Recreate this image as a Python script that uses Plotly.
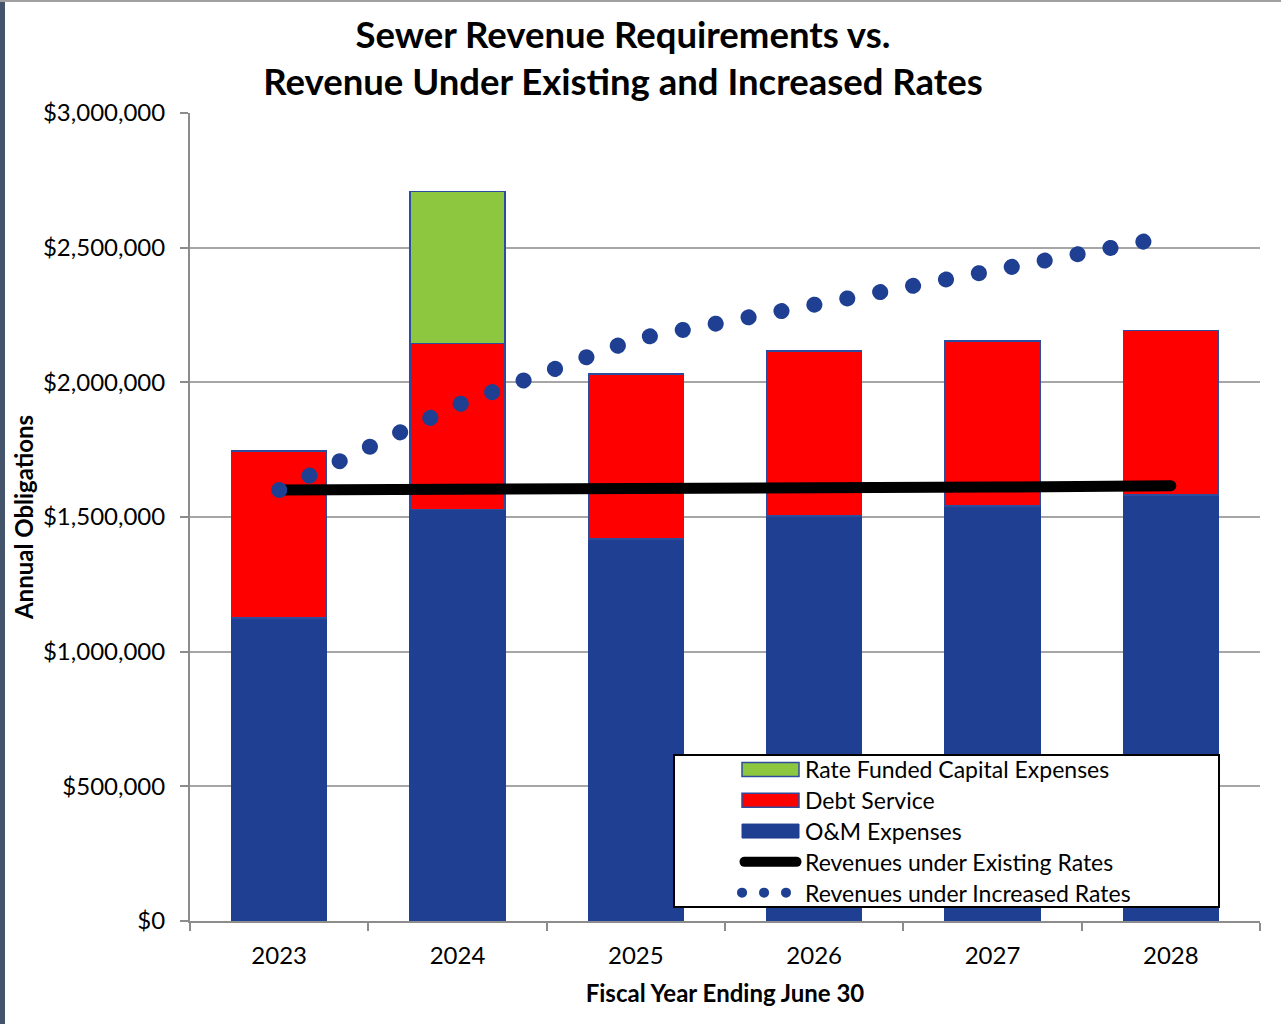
import plotly.graph_objects as go

years = ["2023", "2024", "2025", "2026", "2027", "2028"]
om_expenses = [1125000, 1528000, 1418000, 1504000, 1541000, 1582000]
debt_service = [620000, 616000, 613000, 613000, 613000, 610000]
capital_expenses = [0, 564000, 0, 0, 0, 0]
rev_existing = [1600000, 1601000, 1603000, 1606000, 1611000, 1616000]
rev_increased = [1600000, 1916000, 2161000, 2291000, 2410000, 2542000]
y_ticks = [0, 500000, 1000000, 1500000, 2000000, 2500000, 3000000]

BLUE = "#1F3F93"
RED = "#FF0000"
GREEN = "#8DC63F"
FONT = "Lato"

W, H = 1281, 1024
ML, MR, MT, MB = 190, 21, 113, 103
PW, PH = W - ML - MR, H - MT - MB

fig = go.Figure()
outline = dict(color="#2E4C9E", width=1.5)
fig.add_trace(go.Bar(x=years, y=om_expenses, name="O&M Expenses",
                     marker=dict(color=BLUE, line=dict(color=BLUE, width=1)),
                     legendrank=3))
fig.add_trace(go.Bar(x=years, y=debt_service, name="Debt Service",
                     marker=dict(color=RED, line=outline), legendrank=2))
fig.add_trace(go.Bar(x=years, y=capital_expenses, name="Rate Funded Capital Expenses",
                     marker=dict(color=GREEN, line=outline), legendrank=1))
fig.add_trace(go.Scatter(x=years, y=rev_existing, mode="lines",
                         name="Revenues under Existing Rates",
                         line=dict(color="#000000", width=11), legendrank=4))
fig.add_trace(go.Scatter(x=years, y=rev_increased, mode="lines",
                         name="Revenues under Increased Rates",
                         line=dict(color=BLUE, width=16, dash="16px,17px"),
                         legendrank=5))

def px_x(p):
    return (p - ML) / PW

def px_y(p):
    return (H - MB - p) / PH

fig.update_layout(
    width=W, height=H,
    margin=dict(l=ML, r=MR, t=MT, b=MB),
    paper_bgcolor="white", plot_bgcolor="white",
    barmode="stack", bargap=0.467,
    font=dict(family=FONT, color="#000000", size=24),
    title=dict(text="<b>Sewer Revenue Requirements vs.<br>Revenue Under Existing and Increased Rates</b>",
               x=623 / W, xanchor="center", y=1 - 48 / H, yanchor="middle",
               font=dict(family=FONT, size=36.5, color="#000000")),
    xaxis=dict(type="category", tickson="boundaries", ticks="outside", ticklen=8,
               tickwidth=2, tickcolor="#8C8C8C", showline=True, linecolor="#8C8C8C",
               linewidth=2, showgrid=False, tickfont=dict(size=24),
               ticklabelstandoff=12,
               title=dict(text="<b>Fiscal Year Ending June 30</b>", font=dict(size=24),
                          standoff=17)),
    yaxis=dict(range=[0, 3000000], tickvals=y_ticks, tickformat="$,.0f",
               ticks="outside", ticklen=8, tickwidth=2, tickcolor="#8C8C8C",
               showline=True, linecolor="#8C8C8C", linewidth=2,
               gridcolor="#A6A6A6", gridwidth=1.5, zeroline=False,
               ticklabelstandoff=10, tickfont=dict(size=24),
               title=dict(text="<b>Annual Obligations</b>", font=dict(size=24),
                          standoff=3)),
    legend=dict(x=px_x(673), y=px_y(754), xanchor="left", yanchor="top",
                bgcolor="white", bordercolor="#000000", borderwidth=2,
                traceorder="normal", font=dict(size=23), indentation=80,
                itemwidth=40),
    showlegend=True,
)

# frame edges seen in the reference image
fig.add_shape(type="rect", xref="paper", yref="paper",
              x0=px_x(0), x1=px_x(5), y0=px_y(H), y1=px_y(0),
              fillcolor="#44546A", line=dict(width=0), layer="above")
fig.add_shape(type="line", xref="paper", yref="paper",
              x0=px_x(0), x1=px_x(W), y0=px_y(1), y1=px_y(1),
              line=dict(color="#A0A0A0", width=2), layer="above")

post = """
document.body.style.margin = '0';
var gd = document.getElementById('{plot_id}');
function isBlue(p){
  var s = (p.style.stroke || '').replace(/\\s/g,'');
  return s.indexOf('31,63,147') >= 0 || s.toLowerCase() === '#1f3f93';
}
function fixAll(){
  gd.querySelectorAll('.scatterlayer path.js-line').forEach(function(p){
    p.style.strokeLinecap = 'round';
    if (isBlue(p)) { p.style.strokeDasharray = '0.1px,33.4px'; }
  });
  var legend = gd.querySelector('.legend');
  if (!legend) return;
  var groups = legend.querySelectorAll('g.traces');
  var y0 = null;
  groups.forEach(function(g, i){
    var tr = g.getAttribute('transform') || '';
    var m = tr.match(/translate\\(\\s*([-\\d.]+)[ ,]+([-\\d.]+)\\s*\\)/);
    if (m) {
      var x = parseFloat(m[1]), y = parseFloat(m[2]);
      if (y0 === null) y0 = y;
      g.setAttribute('transform', 'translate(' + x + ',' + (y0 - 8 + 30.8 * i) + ')');
    }
  });
  groups.forEach(function(g){
    var txt = g.querySelector('text.legendtext');
    if (!txt) return;
    var tl = txt.getBoundingClientRect().left;
    var line = g.querySelector('path.js-line');
    if (line && line.getAttribute('d') && line.getBoundingClientRect().width > 0) {
      var r = line.getBoundingClientRect();
      var m = (line.getAttribute('d') || '').match(/M\\s*([-\\d.]+)/);
      var lx0 = m ? parseFloat(m[1]) : 5;
      var off = r.left - lx0;
      line.style.strokeLinecap = 'round';
      if (isBlue(line)) {
        line.style.strokeDasharray = '0.1px,21.9px';
        line.style.strokeWidth = '10px';
        var end = tl - 19, start = end - 44;
        line.setAttribute('d', 'M' + (start - off) + ',0h44');
      } else {
        var end2 = tl - 8.5, start2 = end2 - 52;
        line.setAttribute('d', 'M' + (start2 - off) + ',0h52');
      }
      return;
    }
    var pts = g.querySelectorAll('.legendpoints path');
    pts.forEach(function(p){
      var r = p.getBoundingClientRect();
      if (r.width <= 0) return;
      var d = p.getAttribute('d') || '';
      var nums = d.match(/[-\\d.]+/g);
      if (!nums) return;
      var xs = [];
      for (var i = 0; i < nums.length; i += 2) xs.push(parseFloat(nums[i]));
      var lminx = Math.min.apply(null, xs);
      var off = r.left - lminx;
      var right = tl - 6 - off, left = right - 57;
      p.setAttribute('d', 'M' + right + ',7H' + left + 'V-7H' + right + 'Z');
    });
  });
  var bg = legend.querySelector('rect.bg');
  if (bg) { bg.setAttribute('width', 545); bg.setAttribute('height', 152); }
}
fixAll();
"""

fig.write_html("out.html", post_script=post, config={"displayModeBar": False})
